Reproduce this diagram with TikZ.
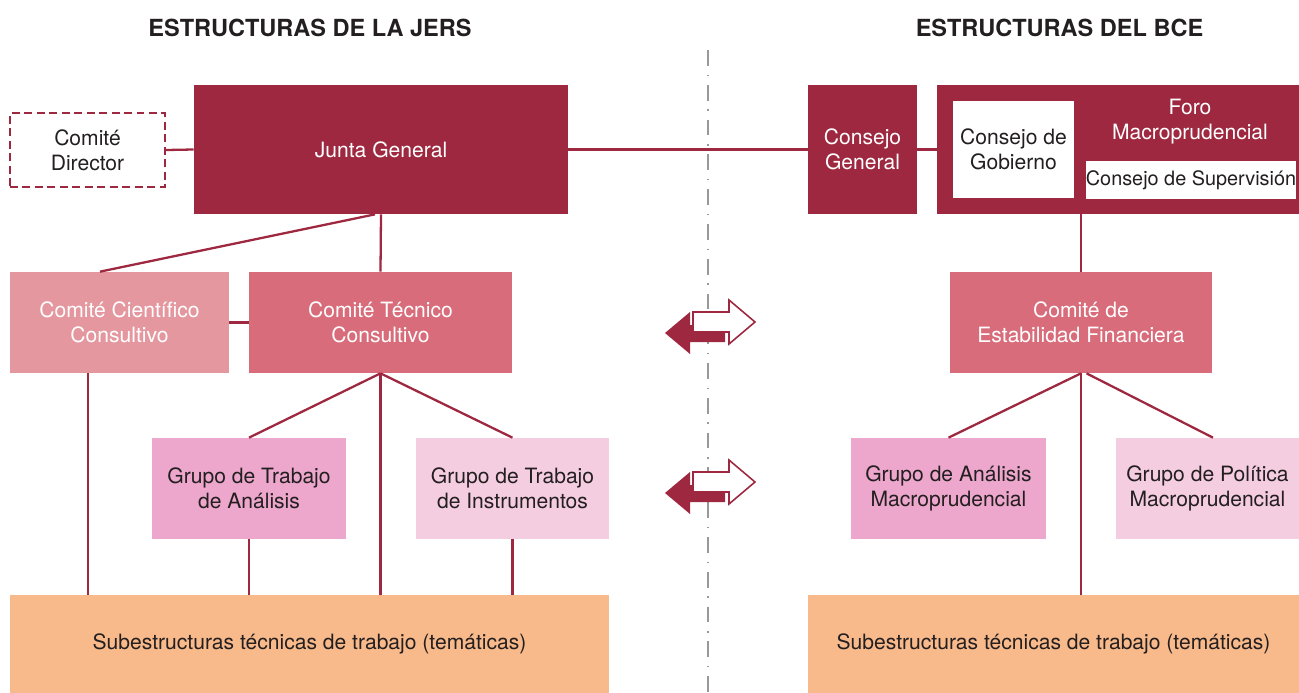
\documentclass[tikz,border=0pt]{standalone}
\usepackage{fontspec}
\setmainfont{TeX Gyre Heros}
\definecolor{jersred}{RGB}{158,40,64}
\definecolor{midred}{RGB}{217,108,122}
\definecolor{lightred}{RGB}{229,151,159}
\definecolor{pinkbox}{RGB}{237,167,204}
\definecolor{palepink}{RGB}{245,205,224}
\definecolor{peach}{RGB}{249,186,139}
\definecolor{inktext}{RGB}{35,31,32}
\begin{document}
\begin{tikzpicture}[x=0.02cm,y=-0.02cm,
  box/.style={inner sep=0pt,align=center,font=\fontsize{12}{14.3}\selectfont,minimum height=2.02cm,text=inktext},
  darkbox/.style={box,fill=jersred,text=white,minimum height=2.58cm},
  link/.style={jersred,line width=1.3pt},
  title/.style={font=\fontsize{13.4}{16}\selectfont\bfseries,text=inktext}]
\useasboundingbox (0,0) rectangle (1299,693);
\draw[gray!80,line width=1.2pt,dash pattern=on 9pt off 5pt on 0.8pt off 5pt] (708,50) -- (708,693);
\node[title] (tjers) at (310,28) {ESTRUCTURAS DE LA JERS};
\node[title] (tbce) at (1059.5,28) {ESTRUCTURAS DEL BCE};
% JERS
\node[box,draw=jersred,line width=1.3pt,dash pattern=on 4.5pt off 2.6pt,minimum width=3.1cm,minimum height=1.48cm] (dir) at (87.5,150) {Comité\\Director};
\node[darkbox,minimum width=7.48cm] (junta) at (381,149.5) {Junta General};
\node[box,fill=lightred,text=white,minimum width=4.38cm] (ccc) at (119.5,322.5) {Comité Científico\\Consultivo};
\node[box,fill=midred,text=white,minimum width=5.26cm] (ctc) at (380.5,322.5) {Comité Técnico\\Consultivo};
\node[box,fill=pinkbox,minimum width=3.88cm] (gta) at (249,488.5) {Grupo de Trabajo\\de Análisis};
\node[box,fill=palepink,minimum width=3.86cm] (gti) at (512.5,488.5) {Grupo de Trabajo\\de Instrumentos};
\node[box,fill=peach,minimum width=11.98cm,minimum height=1.96cm] (subjers) at (309.5,644) {Subestructuras técnicas de trabajo (temáticas)};
% BCE
\node[darkbox,minimum width=2.18cm] (cgen) at (862.5,149.5) {Consejo\\General};
\node[darkbox,minimum width=7.24cm] (foro) at (1118,149.5) {};
\node[box,fill=white,minimum width=2.42cm,minimum height=1.94cm] (gob) at (1013.5,149.5) {Consejo de\\Gobierno};
\node[box,fill=white,minimum width=4.2cm,minimum height=0.76cm,font=\fontsize{11.3}{13}\selectfont] (sup) at (1191,180) {Consejo de Supervisión};
\node[box,text=white,minimum height=0pt] (forolbl) at (1190,122) {Foro\\Macroprudencial};
\node[box,fill=midred,text=white,minimum width=5.24cm] (cef) at (1081,322.5) {Comité de\\Estabilidad Financiera};
\node[box,fill=pinkbox,minimum width=3.9cm] (gam) at (948.5,488.5) {Grupo de Análisis\\Macroprudencial};
\node[box,fill=palepink,minimum width=3.66cm] (gpm) at (1207.5,488.5) {Grupo de Política\\Macroprudencial};
\node[box,fill=peach,minimum width=9.82cm,minimum height=1.96cm] (subbce) at (1053.5,644) {Subestructuras técnicas de trabajo (temáticas)};
% links
\draw[link] (dir.east) -- (junta.west);
\draw[link] (junta.east) -- (cgen.west);
\draw[link] (cgen.east) -- (foro.west);
\draw[link] (junta.south) -- (ctc.north);
\draw[link] ([xshift=-0.12cm]junta.south) -- ([xshift=-0.39cm]ccc.north);
\draw[link] (ccc.east) -- (ctc.west);
\draw[link] (ctc.south) -- (gta.north);
\draw[link] (ctc.south) -- (gti.north);
\draw[link] (ctc.south) -- (ctc.south |- subjers.north);
\draw[link] ([xshift=-0.63cm]ccc.south) -- ([xshift=-0.63cm]ccc.south |- subjers.north);
\draw[link] (gta.south) -- (gta.south |- subjers.north);
\draw[link] (gti.south) -- (gti.south |- subjers.north);
\draw[link] (cef.north) -- (cef.north |- foro.south);
\draw[link] (cef.south) -- (gam.north);
\draw[link] ([xshift=0.11cm]cef.south) -- ([xshift=0.11cm]gpm.north);
\draw[link] (cef.south) -- (cef.south |- subbce.north);
% exchange arrows
\foreach \dy in {0,160} {
  \fill[jersred] (665,333+\dy) -- (690,312+\dy) -- (690,325+\dy) -- (725,325+\dy) -- (725,342+\dy) -- (690,342+\dy) -- (690,354+\dy) -- cycle;
  \filldraw[draw=jersred,fill=white,line width=0.9pt] (693,312+\dy) -- (729,312+\dy) -- (729,300+\dy) -- (755,322+\dy) -- (729,344+\dy) -- (729,332+\dy) -- (693,332+\dy) -- cycle;
}
\end{tikzpicture}
\end{document}
